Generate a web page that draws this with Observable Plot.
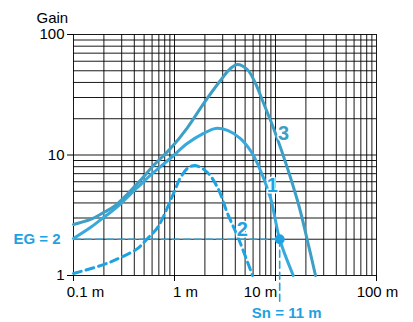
<!DOCTYPE html>
<html>
<head>
<meta charset="utf-8">
<script src="https://cdn.jsdelivr.net/npm/d3@7"></script>
<script src="https://cdn.jsdelivr.net/npm/@observablehq/plot@0.6"></script>
<style>
  html, body { margin: 0; padding: 0; background: #fff; }
  svg { display: block; }
</style>
</head>
<body>
<div id="chart"></div>
<script>
// Curve 3 (distance m, gain)
const curve3X = [0.1, 0.147, 0.198, 0.26, 0.43, 0.62, 0.912, 1.345, 1.94, 2.85, 3.58, 4.21, 5.28, 6.34, 7.43, 10.0, 16.5, 20.7, 24.9];
const curve3Y = [2.65, 2.92, 3.33, 3.81, 5.8, 8.18, 11.3, 16.9, 26.7, 41.5, 52.2, 56.4, 51, 39.2, 28.3, 15.1, 4.19, 1.95, 1.0];
// Curve 1
const curve1X = [0.1, 0.147, 0.198, 0.26, 0.43, 0.62, 0.912, 1.345, 1.94, 2.55, 3.35, 4.5, 5.65, 6.64, 8.9, 11, 14.7, 15.0];
const curve1Y = [2.03, 2.5, 3.03, 3.6, 5.38, 7.16, 9.4, 12.5, 15.1, 16.6, 16.0, 13.7, 10.9, 8.5, 4.44, 2.0, 1.04, 1.0];
// Curve 2 (dashed)
const curve2X = [0.1, 0.198, 0.292, 0.43, 0.541, 0.679, 0.977, 1.146, 1.377, 1.61, 2.12, 2.67, 3.35, 4.3, 5.92];
const curve2Y = [1.04, 1.23, 1.41, 1.67, 2.03, 2.5, 4.79, 6.5, 7.87, 8.18, 7.16, 5.37, 3.27, 2.03, 1.0];
// Reference point
const egGain = 2;
const snDistance = 11;
// Ticks
const xTicks = [0.1, 1, 10, 100];
const xTickLabels = ["0.1 m", "1 m", "10 m", "100 m"];
const yTicks = [1, 10, 100];
// Curve labels
const labelNames = ["3", "1", "2"];
const labelX = [12.0, 9.3, 4.7];
const labelY = [15.1, 5.6, 2.4];

const c3 = curve3X.map((x, i) => ({x, y: curve3Y[i]}));
const c1 = curve1X.map((x, i) => ({x, y: curve1Y[i]}));
const c2 = curve2X.map((x, i) => ({x, y: curve2Y[i]}));
const labels = labelNames.map((t, i) => ({t, x: labelX[i], y: labelY[i]}));

const gridX = d3.scaleLog().domain([0.1, 100]).ticks();
const gridY = d3.scaleLog().domain([1, 100]).ticks();

const blue = "#1ea2e2";
const col1 = "#38a9dc";
const col3 = "#3d9ec6";
const font = "'Liberation Sans', Arial, sans-serif";

// per-label horizontal nudges reproducing the original placement
const xLabelNudge = [12, 11, -15, 1];
const xLabelMarks = xTicks.map((t, i) =>
  Plot.text([{x: t, y: 1}], {x: "x", y: "y", text: () => xTickLabels[i], dy: 17, dx: xLabelNudge[i], fontSize: 15, fill: "#000"})
);

const chart = Plot.plot({
  width: 413,
  height: 322,
  marginLeft: 73,
  marginRight: 37,
  marginTop: 34,
  marginBottom: 47,
  style: {fontFamily: font, fontSize: "15px", color: "#000", background: "#fff", overflow: "visible"},
  x: {type: "log", domain: [0.1, 100]},
  y: {type: "log", domain: [1, 100]},
  marks: [
    Plot.ruleX(gridX, {stroke: "#000", strokeWidth: 1, strokeOpacity: 0.9}),
    Plot.ruleY(gridY, {stroke: "#000", strokeWidth: 1, strokeOpacity: 0.9}),
    Plot.axisX(xTicks, {tickFormat: null, text: null, tickSize: 6, label: null, stroke: "#000"}),
    ...xLabelMarks,
    Plot.axisY(yTicks, {tickFormat: d => String(d), tickSize: 6, tickPadding: 3, fontSize: 15, label: null, stroke: "#000"}),
    Plot.text(["Gain"], {frameAnchor: "top-left", dx: -37, dy: -22, textAnchor: "start", fontSize: 15, fill: "#000"}),
    // reference lines
    Plot.line([{x: 0.1, y: egGain}, {x: snDistance, y: egGain}], {x: "x", y: "y", stroke: blue, strokeWidth: 1.6, strokeDasharray: "7,4"}),
    Plot.line([{x: snDistance, y: egGain}, {x: snDistance, y: 0.6}], {x: "x", y: "y", stroke: blue, strokeWidth: 1.6, strokeDasharray: "7,4"}),
    // curves
    Plot.line(c2, {x: "x", y: "y", stroke: blue, strokeWidth: 3, strokeDasharray: "8,5", curve: "catmull-rom"}),
    Plot.line(c1, {x: "x", y: "y", stroke: col1, strokeWidth: 3, curve: "catmull-rom"}),
    Plot.line(c3, {x: "x", y: "y", stroke: col3, strokeWidth: 3, curve: "catmull-rom"}),
    Plot.dot([{x: snDistance, y: egGain}], {x: "x", y: "y", r: 5, fill: blue, stroke: "none"}),
    // curve labels
    Plot.text(labels, {x: "x", y: "y", text: "t", fill: d => d.t === "3" ? col3 : blue, fontSize: 20, fontWeight: "bold", stroke: "#fff", strokeWidth: 3, paintOrder: "stroke"}),
    Plot.text([{x: 0.1, y: egGain}], {x: "x", y: "y", text: () => "EG = 2", textAnchor: "end", dx: -13, fill: blue, fontSize: 15, fontWeight: "bold"}),
    Plot.text([{x: snDistance, y: 1}], {x: "x", y: "y", text: () => "Sn = 11 m", dy: 38, dx: 7, fill: blue, fontSize: 15, fontWeight: "bold"})
  ]
});
document.getElementById("chart").appendChild(chart);
</script>
</body>
</html>
